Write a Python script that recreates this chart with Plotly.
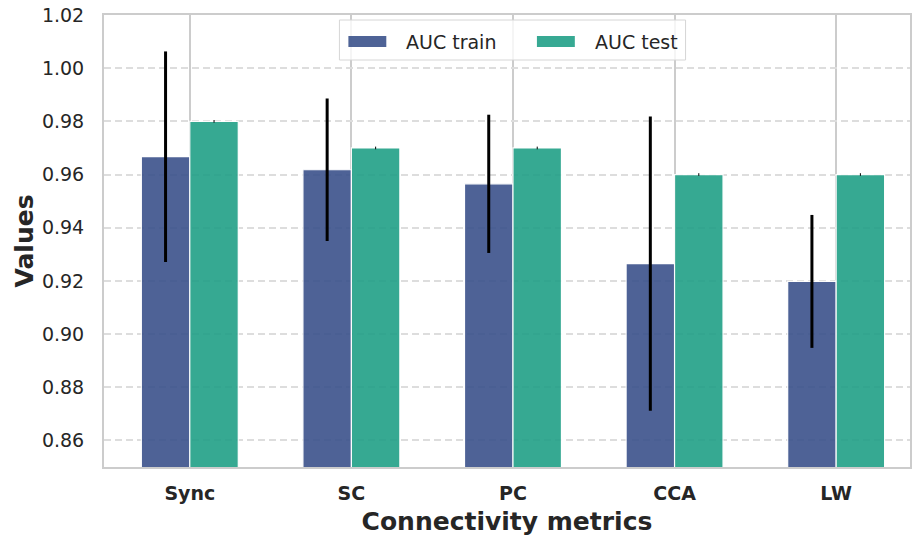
import plotly.graph_objects as go

# Connectivity metrics and their AUC scores (mean and spread)
metrics = ["Sync", "SC", "PC", "CCA", "LW"]
auc_train = [0.9667, 0.9618, 0.9565, 0.9265, 0.9198]
auc_train_err = [0.0396, 0.0268, 0.0260, 0.0553, 0.0250]
auc_test = [0.98, 0.97, 0.97, 0.96, 0.96]
auc_test_err = [0.0005, 0.0005, 0.0005, 0.0005, 0.0005]
series_names = ["AUC train", "AUC test"]
y_ticks = [0.86, 0.88, 0.90, 0.92, 0.94, 0.96, 0.98, 1.00, 1.02]

train_color = "#3b528b"
test_color = "#21a087"
text_color = "#262626"
spine_color = "#cccccc"

W, H = 912, 536
M_L, M_R, M_T, M_B = 104, 0, 15, 69
PW, PH = W - M_L - M_R, H - M_T - M_B


def px_x(x):
    return (x - M_L) / PW


def px_y(y):
    return (H - M_B - y) / PH


fig = go.Figure()
fig.add_trace(go.Bar(
    x=metrics, y=auc_train, name=series_names[0], showlegend=False,
    marker=dict(color=train_color, opacity=0.9, line=dict(color="white", width=1.2)),
    error_y=dict(type="data", array=auc_train_err, color="black", thickness=3, width=0),
))
fig.add_trace(go.Bar(
    x=metrics, y=auc_test, name=series_names[1], showlegend=False,
    marker=dict(color=test_color, opacity=0.9, line=dict(color="white", width=1.2)),
    error_y=dict(type="data", array=auc_test_err, color="black", thickness=1, width=0),
))

# Legend box drawn in the upper centre of the axes
shapes = [
    dict(type="rect", xref="paper", yref="paper",
         x0=px_x(340), x1=px_x(687), y0=px_y(60), y1=px_y(20),
         fillcolor="rgba(255,255,255,0.8)", line=dict(color="#d6d6d6", width=1),
         layer="above"),
]
annotations = []
legend_items = [(series_names[0], train_color, 349, 405), (series_names[1], test_color, 538, 594)]
for name, color, sx, tx in legend_items:
    shapes.append(dict(type="rect", xref="paper", yref="paper",
                       x0=px_x(sx), x1=px_x(sx + 38), y0=px_y(47), y1=px_y(36),
                       fillcolor=color, opacity=0.9, line=dict(width=0), layer="above"))
    annotations.append(dict(xref="paper", yref="paper", x=px_x(tx), y=px_y(41.5),
                            text=name, showarrow=False, xanchor="left", yanchor="middle",
                            font=dict(size=19, color=text_color)))

fig.update_layout(
    width=W, height=H,
    margin=dict(l=M_L, r=M_R, t=M_T, b=M_B, pad=0),
    paper_bgcolor="white", plot_bgcolor="white",
    barmode="group", bargap=0.4, bargroupgap=0.0,
    font=dict(family="DejaVu Sans", color=text_color),
    shapes=shapes, annotations=annotations,
    showlegend=False,
)
fig.update_xaxes(
    type="category", range=[-0.531, 4.457],
    showgrid=True, gridcolor=spine_color, gridwidth=1.5,
    showline=True, linecolor=spine_color, linewidth=2, mirror=True,
    ticks="", ticklabelstandoff=8,
    tickfont=dict(size=19, family="DejaVu Sans", weight="bold", color=text_color),
    title=dict(text="<b>Connectivity metrics</b>", standoff=11,
               font=dict(size=25, family="DejaVu Sans", color=text_color)),
)
fig.update_yaxes(
    range=[0.85, 1.02], tickvals=y_ticks, tickformat=".2f",
    showgrid=True, gridcolor="#dddddd", gridwidth=1.5, griddash="7px,4px",
    zeroline=False,
    showline=True, linecolor=spine_color, linewidth=2, mirror=True,
    ticks="", ticklabelstandoff=14,
    tickfont=dict(size=19, family="DejaVu Sans", color=text_color),
    title=dict(text="<b>Values</b>", standoff=1,
               font=dict(size=25, family="DejaVu Sans", color=text_color)),
)

fig.write_html("out.html")
